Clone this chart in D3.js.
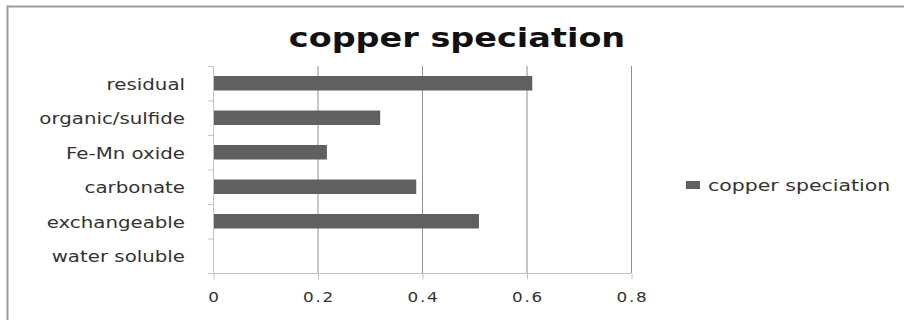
<!DOCTYPE html>
<html>
<head>
<meta charset="utf-8">
<script src="https://cdn.jsdelivr.net/npm/d3@7"></script>
<style>
  body { margin: 0; background: #fff; }
  text { font-family: "DejaVu Sans", Verdana, sans-serif; }
</style>
</head>
<body>
<div id="chart"></div>
<script>
// categories, bottom to top as in the source sheet
const categories = ["water soluble", "exchangeable", "carbonate", "Fe-Mn oxide", "organic/sulfide", "residual"];
const values = [0, 0.509, 0.389, 0.218, 0.320, 0.611];
const xTicks = [0, 0.2, 0.4, 0.6, 0.8];
const seriesName = "copper speciation";

const width = 904, height = 320;
const plot = { left: 213, right: 631, top: 66, bottom: 273 };
const stretch = 1.28; // the source image text is a bit wide

const svg = d3.select("#chart")
  .append("svg")
  .attr("width", width)
  .attr("height", height);

// outer chart frame (only top and left edges show in the crop)
svg.append("path")
  .attr("d", `M7.5,${height + 2} V6.5 H${width + 2}`)
  .attr("fill", "none")
  .attr("stroke", "#9a9a9a")
  .attr("stroke-width", 2);

svg.append("text")
  .attr("transform", `translate(457, 47) scale(1.24,1)`)
  .attr("text-anchor", "middle")
  .style("font-size", "27px")
  .style("font-weight", "bold")
  .attr("fill", "#111")
  .text(seriesName);

const x = d3.scaleLinear()
  .domain([0, 0.8])
  .range([plot.left, plot.right]);

const y = d3.scaleBand()
  .domain(categories.slice().reverse())
  .range([plot.top, plot.bottom])
  .paddingInner(0.58)
  .paddingOuter(0.29);

// vertical gridlines
svg.append("g")
  .selectAll("line")
  .data(xTicks.slice(1))
  .join("line")
  .attr("x1", d => x(d) + 0.5)
  .attr("x2", d => x(d) + 0.5)
  .attr("y1", plot.top)
  .attr("y2", plot.bottom)
  .attr("stroke", "#8e8e8e");

// x axis
const xAxis = svg.append("g")
  .attr("transform", `translate(0, ${plot.bottom + 0.5})`)
  .call(d3.axisBottom(x).tickValues(xTicks).tickSize(6).tickSizeOuter(0)
    .tickFormat(d => d === 0 ? "0" : d3.format(".1f")(d)));
xAxis.select(".domain").attr("stroke", "#c4c4c4").attr("d", `M${plot.left - 5},0H${plot.right}`);
xAxis.selectAll(".tick line").attr("stroke", "#c4c4c4").attr("transform", "translate(0.5,0)");
xAxis.selectAll(".tick text")
  .attr("y", null)
  .attr("dy", null)
  .attr("transform", `translate(1, 28) scale(1.2,1)`)
  .attr("fill", "#333")
  .style("font-size", "14px")
  .style("letter-spacing", "1.5px");

// y axis line + ticks at band boundaries
const yg = svg.append("g");
yg.append("line")
  .attr("x1", plot.left + 0.5).attr("x2", plot.left + 0.5)
  .attr("y1", plot.top).attr("y2", plot.bottom)
  .attr("stroke", "#c4c4c4");
const step = y.step();
yg.selectAll("line.tk")
  .data(d3.range(categories.length))
  .join("line")
  .attr("class", "tk")
  .attr("x1", plot.left - 5).attr("x2", plot.left)
  .attr("y1", i => plot.top + i * step + 0.5)
  .attr("y2", i => plot.top + i * step + 0.5)
  .attr("stroke", "#c4c4c4");

// category labels
yg.selectAll("text")
  .data(categories)
  .join("text")
  .attr("transform", d => `translate(185, ${y(d) + y.bandwidth() / 2 + 1}) scale(1.32,1)`)
  .attr("dy", "0.35em")
  .attr("text-anchor", "end")
  .attr("fill", "#333")
  .style("font-size", "15px")
  .text(d => d);

// bars
svg.append("g")
  .selectAll("rect")
  .data(categories.map((c, i) => ({ cat: c, val: values[i] })))
  .join("rect")
  .attr("x", x(0) + 1)
  .attr("y", d => y(d.cat))
  .attr("width", d => Math.max(0, x(d.val) - x(0) - 1))
  .attr("height", y.bandwidth())
  .attr("fill", "#606060");

// legend
const legend = svg.append("g").attr("transform", "translate(686, 185)");
legend.append("rect")
  .attr("x", 0).attr("y", -4)
  .attr("width", 14).attr("height", 8)
  .attr("fill", "#606060");
legend.append("text")
  .attr("transform", `translate(22, 0) scale(${stretch},1)`)
  .attr("dy", "0.35em")
  .attr("fill", "#333")
  .style("font-size", "16px")
  .text(seriesName);
</script>
</body>
</html>
